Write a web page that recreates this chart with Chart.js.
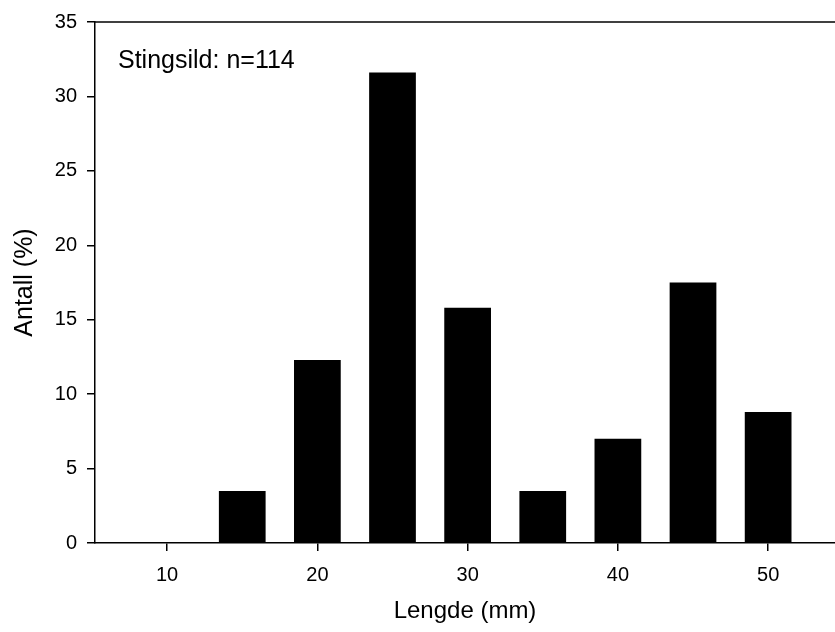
<!DOCTYPE html>
<html>
<head>
<meta charset="utf-8">
<script src="https://cdn.jsdelivr.net/npm/chart.js@4/dist/chart.umd.min.js"></script>
<style>
  body { margin: 0; background: #fff; }
  canvas { display: block; }
</style>
</head>
<body>
<canvas id="lengthChart" width="835" height="632"></canvas>
<script>
// Length classes (mm) and share of fish (%)
const lengthClasses = [10, 15, 20, 25, 30, 35, 40, 45, 50];
const sharePercent = [0, 3.5, 12.3, 31.6, 15.8, 3.5, 7.0, 17.5, 8.8];
const xTickValues = [10, 20, 30, 40, 50];
const yTickValues = [0, 5, 10, 15, 20, 25, 30, 35];
const noteText = "Stingsild: n=114";

const fontFamily = "'Liberation Sans', Arial, sans-serif";

// Top frame line and the sample note inside the plot
const framePlugin = {
    id: "frame",
    afterDraw(chart) {
        const { ctx, chartArea } = chart;
        ctx.save();
        ctx.strokeStyle = "#000";
        ctx.lineWidth = 1.5;
        ctx.beginPath();
        ctx.moveTo(chartArea.left, chartArea.top);
        ctx.lineTo(chartArea.right, chartArea.top);
        ctx.stroke();

        ctx.fillStyle = "#000";
        ctx.font = "25px " + fontFamily;
        ctx.textBaseline = "alphabetic";
        ctx.fillText(noteText, chartArea.left + 23, chartArea.top + 46);
        ctx.restore();
    }
};

const ctx = document.getElementById("lengthChart").getContext("2d");
new Chart(ctx, {
    type: "bar",
    data: {
        datasets: [{
            data: lengthClasses.map((x, i) => ({ x: x, y: sharePercent[i] })),
            backgroundColor: "#000",
            borderWidth: 0,
            barPercentage: 0.622,
            categoryPercentage: 1.0
        }]
    },
    options: {
        responsive: false,
        animation: false,
        devicePixelRatio: 1,
        layout: { padding: { top: 22, right: 0, left: 0, bottom: 0 } },
        plugins: {
            legend: { display: false },
            tooltip: { enabled: false }
        },
        scales: {
            x: {
                type: "linear",
                offset: false,
                min: 5.2,
                max: 54.45,
                afterBuildTicks: scale => {
                    scale.ticks = xTickValues.map(v => ({ value: v }));
                },
                afterFit: scale => { scale.height = 89; },
                grid: { offset: false, drawOnChartArea: false, drawTicks: true, tickLength: 8, color: "#000", lineWidth: 1.5 },
                border: { display: true, color: "#000", width: 1.5 },
                ticks: { color: "#000", padding: 12, font: { family: fontFamily, size: 20 } },
                title: {
                    display: true,
                    text: "Lengde (mm)",
                    color: "#000",
                    padding: { top: 0, bottom: 6 },
                    font: { family: fontFamily, size: 24 }
                }
            },
            y: {
                min: 0,
                max: 35,
                afterBuildTicks: scale => {
                    scale.ticks = yTickValues.map(v => ({ value: v }));
                },
                afterFit: scale => { scale.width = 95; },
                grid: { drawOnChartArea: false, drawTicks: true, tickLength: 8, color: "#000", lineWidth: 1.5 },
                border: { display: true, color: "#000", width: 1.5 },
                ticks: { color: "#000", padding: 10, font: { family: fontFamily, size: 20 } },
                title: {
                    display: true,
                    text: "Antall (%)",
                    color: "#000",
                    padding: { top: 10, bottom: 0 },
                    font: { family: fontFamily, size: 25 }
                }
            }
        }
    },
    plugins: [framePlugin]
});
</script>
</body>
</html>
